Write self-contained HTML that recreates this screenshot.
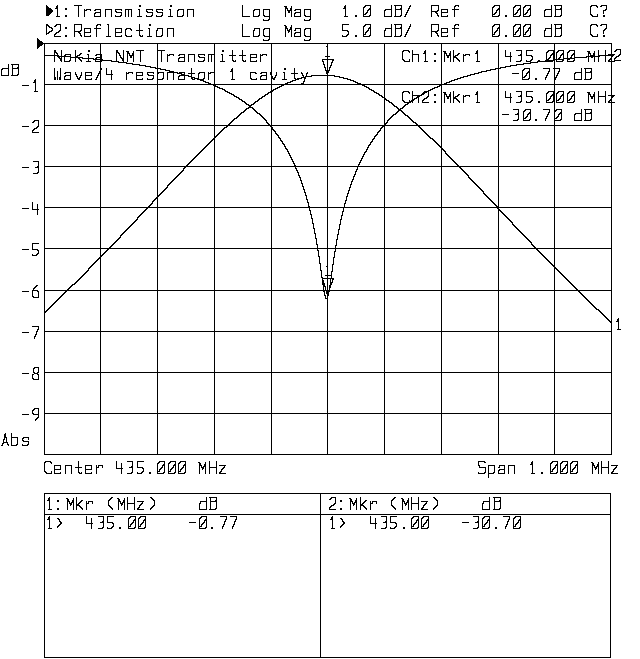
<!DOCTYPE html><html><head><meta charset="utf-8"><style>html,body{margin:0;padding:0;background:#fff;width:640px;height:659px;overflow:hidden;font-family:"Liberation Mono",monospace}svg{display:block}</style></head><body>
<svg width="640" height="659" viewBox="0 0 640 659" shape-rendering="crispEdges">
<rect width="640" height="659" fill="#fff"/>
<g fill="none" stroke="#000" stroke-width="1">
<path d="M44.5 43 V455 M100.5 43 V455 M157.5 43 V455 M214.5 43 V455 M271.5 43 V455 M327.5 43 V455 M384.5 43 V455 M441.5 43 V455 M498.5 43 V455 M554.5 43 V455 M611.5 43 V455 M44 43.5 H612 M44 84.5 H612 M44 125.5 H612 M44 166.5 H612 M44 207.5 H612 M44 248.5 H612 M44 290.5 H612 M44 331.5 H612 M44 372.5 H612 M44 413.5 H612 M44 454.5 H612 M44.5 493.5 H610.5 V657.5 H44.5 Z M44 514.5 H611 M320.5 493 V658"/>
<path d="M44.5 312.5H45.5V311.5H46.5V310.5H47.5V309.5H48.5V308.5H49.5V307.5H50.5V306.5H51.5V305.5H52.5V304.5H53.5V303.5H54.5V302.5H55.5V301.5H56.5V300.5H57.5V299.5H58.5V298.5H59.5V297.5H60.5V296.5H61.5V295.5H62.5V294.5H63.5V293.5H64.5V292.5H65.5V291.5H66.5V290.5H67.5V289.5H68.5V288.5H69.5V287.5H70.5V286.5H71.5V285.5H72.5V284.5H73.5H74.5V283.5H75.5V282.5H76.5V281.5H77.5V280.5H78.5V279.5H79.5V278.5H80.5V277.5H81.5V276.5H82.5V275.5H83.5V274.5H84.5V273.5H85.5V272.5H86.5V271.5H87.5V270.5H88.5V268.5H89.5V267.5H90.5V266.5H91.5V265.5H92.5V264.5H93.5V263.5H94.5V262.5H95.5V261.5H96.5V260.5H97.5V259.5H98.5V258.5H99.5V257.5H100.5V256.5H101.5V255.5H102.5V254.5H103.5V253.5H104.5V252.5H105.5V251.5H106.5V250.5H107.5V249.5H108.5V248.5H109.5V247.5H110.5V246.5H111.5V245.5H112.5V244.5H113.5V243.5H114.5V242.5H115.5V241.5H116.5V240.5H117.5V239.5H118.5V238.5H119.5V237.5H120.5V235.5H121.5V234.5H122.5V233.5H123.5V232.5H124.5V231.5H125.5V230.5H126.5V229.5H127.5V228.5H128.5V227.5H129.5V226.5H130.5V225.5H131.5V224.5H132.5V223.5H133.5V222.5H134.5V221.5H135.5V220.5H136.5V219.5H137.5V217.5H138.5V216.5H139.5V215.5H140.5V214.5H141.5V213.5H142.5V212.5H143.5V211.5H144.5V210.5H145.5V209.5H146.5V208.5H147.5V207.5H148.5V206.5H149.5V205.5H150.5V204.5H151.5V203.5H152.5V201.5H153.5V200.5H154.5V199.5H155.5V198.5H156.5V197.5H157.5V196.5H158.5V195.5H159.5V194.5H160.5V193.5H161.5V192.5H162.5V191.5H163.5V190.5H164.5V189.5H165.5V188.5H166.5V187.5H167.5V185.5H168.5V184.5H169.5V183.5H170.5V182.5H171.5V181.5H172.5V180.5H173.5V179.5H174.5V178.5H175.5V177.5H176.5V176.5H177.5V175.5H178.5V174.5H179.5V173.5H180.5V172.5H181.5V171.5H182.5V170.5H183.5V168.5H184.5V167.5H185.5V166.5H186.5V165.5H187.5V164.5H188.5V163.5H189.5V162.5H190.5V161.5H191.5V160.5H192.5V159.5H193.5V158.5H194.5V157.5H195.5V156.5H196.5V155.5H197.5V154.5H198.5V153.5H199.5V152.5H200.5V151.5H201.5V150.5H202.5V149.5H203.5V148.5H204.5V147.5H205.5V146.5H206.5V145.5H207.5V144.5H208.5V143.5H209.5V142.5H210.5V141.5H211.5V140.5H212.5V139.5H213.5V138.5H214.5V137.5H215.5V136.5H216.5V135.5H217.5V134.5H218.5V133.5H219.5V132.5H220.5V131.5H221.5V130.5H222.5V129.5H223.5V128.5H224.5V127.5H225.5H226.5V126.5H227.5V125.5H228.5V124.5H229.5V123.5H230.5V122.5H231.5V121.5H232.5V120.5H233.5V119.5H234.5V118.5H235.5H236.5V117.5H237.5V116.5H238.5V115.5H239.5V114.5H240.5V113.5H241.5V112.5H242.5H243.5V111.5H244.5V110.5H245.5V109.5H246.5V108.5H247.5H248.5V107.5H249.5V106.5H250.5V105.5H251.5V104.5H252.5H253.5V103.5H254.5V102.5H255.5V101.5H256.5H257.5V100.5H258.5V99.5H259.5V98.5H260.5H261.5V97.5H262.5V96.5H263.5H264.5V95.5H265.5V94.5H266.5H267.5V93.5H268.5V92.5H269.5H270.5V91.5H271.5H272.5V90.5H273.5V89.5H274.5H275.5V88.5H276.5H277.5V87.5H278.5H279.5V86.5H280.5H281.5V85.5H282.5H283.5V84.5H284.5H285.5V83.5H286.5H287.5V82.5H288.5H289.5H290.5V81.5H291.5H292.5V80.5H293.5H294.5H295.5V79.5H296.5H297.5H298.5V78.5H299.5H300.5H301.5V77.5H302.5H303.5H304.5H305.5V76.5H306.5H307.5H308.5H309.5H310.5H311.5V75.5H312.5H313.5H314.5H315.5H316.5H317.5H318.5H319.5H320.5H321.5H322.5H323.5H324.5H325.5H326.5H327.5H328.5H329.5H330.5H331.5H332.5H333.5H334.5V76.5H335.5H336.5H337.5H338.5H339.5V77.5H340.5H341.5H342.5H343.5V78.5H344.5H345.5H346.5H347.5V79.5H348.5H349.5H350.5V80.5H351.5H352.5H353.5V81.5H354.5H355.5V82.5H356.5H357.5V83.5H358.5H359.5H360.5V84.5H361.5H362.5V85.5H363.5H364.5V86.5H365.5H366.5V87.5H367.5H368.5V88.5H369.5V89.5H370.5H371.5V90.5H372.5H373.5V91.5H374.5V92.5H375.5H376.5V93.5H377.5H378.5V94.5H379.5V95.5H380.5H381.5V96.5H382.5V97.5H383.5H384.5V98.5H385.5V99.5H386.5V100.5H387.5H388.5V101.5H389.5V102.5H390.5H391.5V103.5H392.5V104.5H393.5V105.5H394.5V106.5H395.5H396.5V107.5H397.5V108.5H398.5V109.5H399.5V110.5H400.5H401.5V111.5H402.5V112.5H403.5V113.5H404.5V114.5H405.5V115.5H406.5H407.5V116.5H408.5V117.5H409.5V118.5H410.5V119.5H411.5V120.5H412.5V121.5H413.5V122.5H414.5H415.5V123.5H416.5V124.5H417.5V125.5H418.5V126.5H419.5V127.5H420.5V128.5H421.5V129.5H422.5V130.5H423.5V131.5H424.5V132.5H425.5V133.5H426.5V134.5H427.5V135.5H428.5V136.5H429.5V137.5H430.5V138.5H431.5H432.5V139.5H433.5V140.5H434.5V141.5H435.5V142.5H436.5V143.5H437.5V144.5H438.5V145.5H439.5V146.5H440.5V147.5H441.5V148.5H442.5V149.5H443.5V150.5H444.5V151.5H445.5V153.5H446.5V154.5H447.5V155.5H448.5V156.5H449.5V157.5H450.5V158.5H451.5V159.5H452.5V160.5H453.5V161.5H454.5V162.5H455.5V163.5H456.5V164.5H457.5V165.5H458.5V166.5H459.5V167.5H460.5V168.5H461.5V169.5H462.5V170.5H463.5V171.5H464.5V172.5H465.5V173.5H466.5V174.5H467.5V175.5H468.5V177.5H469.5V178.5H470.5V179.5H471.5V180.5H472.5V181.5H473.5V182.5H474.5V183.5H475.5V184.5H476.5V185.5H477.5V186.5H478.5V187.5H479.5V188.5H480.5V189.5H481.5V190.5H482.5V191.5H483.5V193.5H484.5V194.5H485.5V195.5H486.5V196.5H487.5V197.5H488.5V198.5H489.5V199.5H490.5V200.5H491.5V201.5H492.5V202.5H493.5V203.5H494.5V204.5H495.5V205.5H496.5V206.5H497.5V208.5H498.5V209.5H499.5V210.5H500.5V211.5H501.5V212.5H502.5V213.5H503.5V214.5H504.5V215.5H505.5V216.5H506.5V217.5H507.5V218.5H508.5V219.5H509.5V220.5H510.5V221.5H511.5V222.5H512.5V224.5H513.5V225.5H514.5V226.5H515.5V227.5H516.5V228.5H517.5V229.5H518.5V230.5H519.5V231.5H520.5V232.5H521.5V233.5H522.5V234.5H523.5V235.5H524.5V236.5H525.5V237.5H526.5V238.5H527.5V239.5H528.5V240.5H529.5V241.5H530.5V242.5H531.5V244.5H532.5V245.5H533.5V246.5H534.5V247.5H535.5V248.5H536.5V249.5H537.5V250.5H538.5V251.5H539.5V252.5H540.5V253.5H541.5V254.5H542.5V255.5H543.5V256.5H544.5V257.5H545.5V258.5H546.5V259.5H547.5V260.5H548.5V261.5H549.5V262.5H550.5V263.5H551.5V264.5H552.5V265.5H553.5V266.5H554.5V267.5H555.5V268.5H556.5V269.5H557.5V270.5H558.5V271.5H559.5V272.5H560.5V273.5H561.5V274.5H562.5V275.5H563.5V276.5H564.5V277.5H565.5V278.5H566.5V279.5H567.5V280.5H568.5V281.5H569.5V282.5H570.5V283.5H571.5V284.5H572.5V285.5H573.5V286.5H574.5V287.5H575.5V288.5H576.5V289.5H577.5V290.5H578.5V291.5H579.5V292.5H580.5V293.5H581.5V294.5H582.5V295.5H583.5V296.5H584.5V297.5H585.5V298.5H586.5V299.5H587.5V300.5H588.5V301.5H589.5V302.5H590.5V303.5H591.5V304.5H592.5V305.5H593.5V306.5H594.5V307.5H595.5V308.5H596.5V309.5H597.5H598.5V310.5H599.5V311.5H600.5V312.5H601.5V313.5H602.5V314.5H603.5V315.5H604.5V316.5H605.5V317.5H606.5V318.5H607.5V319.5H608.5V320.5H609.5V321.5H610.5V322.5H611.5V323.5" stroke-linecap="square" stroke-linejoin="round"/>
<path d="M44.5 55.5H45.5H46.5H47.5H48.5H49.5H50.5H51.5H52.5H53.5H54.5H55.5H56.5H57.5V56.5H58.5H59.5H60.5H61.5H62.5H63.5H64.5H65.5H66.5H67.5H68.5H69.5H70.5V57.5H71.5H72.5H73.5H74.5H75.5H76.5H77.5H78.5H79.5H80.5H81.5H82.5V58.5H83.5H84.5H85.5H86.5H87.5H88.5H89.5H90.5H91.5H92.5H93.5V59.5H94.5H95.5H96.5H97.5H98.5H99.5H100.5H101.5H102.5V60.5H103.5H104.5H105.5H106.5H107.5H108.5H109.5H110.5H111.5V61.5H112.5H113.5H114.5H115.5H116.5H117.5H118.5V62.5H119.5H120.5H121.5H122.5H123.5H124.5H125.5H126.5V63.5H127.5H128.5H129.5H130.5H131.5H132.5V64.5H133.5H134.5H135.5H136.5H137.5H138.5H139.5V65.5H140.5H141.5H142.5H143.5H144.5H145.5V66.5H146.5H147.5H148.5H149.5H150.5V67.5H151.5H152.5H153.5H154.5H155.5V68.5H156.5H157.5H158.5H159.5H160.5V69.5H161.5H162.5H163.5H164.5H165.5V70.5H166.5H167.5H168.5H169.5V71.5H170.5H171.5H172.5H173.5V72.5H174.5H175.5H176.5H177.5V73.5H178.5H179.5H180.5H181.5V74.5H182.5H183.5H184.5V75.5H185.5H186.5H187.5H188.5V76.5H189.5H190.5H191.5V77.5H192.5H193.5H194.5V78.5H195.5H196.5H197.5V79.5H198.5H199.5H200.5V80.5H201.5H202.5H203.5V81.5H204.5H205.5V82.5H206.5H207.5H208.5V83.5H209.5H210.5V84.5H211.5H212.5H213.5V85.5H214.5H215.5V86.5H216.5H217.5V87.5H218.5H219.5V88.5H220.5H221.5H222.5V89.5H223.5H224.5V90.5H225.5V91.5H226.5H227.5V92.5H228.5H229.5V93.5H230.5H231.5V94.5H232.5H233.5V95.5H234.5V96.5H235.5H236.5V97.5H237.5H238.5V98.5H239.5V99.5H240.5H241.5V100.5H242.5V101.5H243.5H244.5V102.5H245.5V103.5H246.5V104.5H247.5H248.5V105.5H249.5V106.5H250.5V107.5H251.5H252.5V108.5H253.5V109.5H254.5V110.5H255.5V111.5H256.5V112.5H257.5V113.5H258.5H259.5V114.5H260.5V115.5H261.5V116.5H262.5V117.5H263.5V118.5H264.5V119.5H265.5V120.5H266.5V122.5H267.5V123.5H268.5V124.5H269.5V125.5H270.5V126.5H271.5V127.5H272.5V129.5H273.5V130.5H274.5V131.5H275.5V133.5H276.5V134.5H277.5V135.5H278.5V137.5H279.5V138.5H280.5V140.5H281.5V141.5H282.5V143.5H283.5V144.5H284.5V146.5H285.5V148.5H286.5V149.5H287.5V151.5H288.5V153.5H289.5V155.5H290.5V157.5H291.5V159.5H292.5V161.5H293.5V163.5H294.5V165.5H295.5V168.5H296.5V170.5H297.5V172.5H298.5V175.5H299.5V177.5H300.5V180.5H301.5V183.5H302.5V186.5H303.5V189.5H304.5V192.5H305.5V195.5H306.5V199.5H307.5V202.5H308.5V206.5H309.5V210.5H310.5V214.5H311.5V218.5H312.5V223.5H313.5V228.5H314.5V233.5H315.5V238.5H316.5V244.5H317.5V250.5H318.5V256.5H319.5V263.5H320.5V270.5H321.5V277.5H322.5V284.5H323.5V291.5H324.5V295.5H325.5V298.5H326.5H327.5V295.5H328.5V291.5H329.5V285.5H330.5V278.5H331.5V271.5H332.5V264.5H333.5V257.5H334.5V251.5H335.5V245.5H336.5V239.5H337.5V234.5H338.5V229.5H339.5V224.5H340.5V219.5H341.5V215.5H342.5V211.5H343.5V207.5H344.5V203.5H345.5V200.5H346.5V196.5H347.5V193.5H348.5V190.5H349.5V187.5H350.5V184.5H351.5V181.5H352.5V179.5H353.5V176.5H354.5V174.5H355.5V171.5H356.5V169.5H357.5V166.5H358.5V164.5H359.5V162.5H360.5V160.5H361.5V158.5H362.5V156.5H363.5V154.5H364.5V152.5H365.5V151.5H366.5V149.5H367.5V147.5H368.5V145.5H369.5V144.5H370.5V142.5H371.5V141.5H372.5V139.5H373.5V138.5H374.5V136.5H375.5V135.5H376.5V134.5H377.5V132.5H378.5V131.5H379.5V130.5H380.5V128.5H381.5V127.5H382.5V126.5H383.5V125.5H384.5V124.5H385.5V123.5H386.5V122.5H387.5V120.5H388.5V119.5H389.5V118.5H390.5V117.5H391.5V116.5H392.5V115.5H393.5V114.5H394.5H395.5V113.5H396.5V112.5H397.5V111.5H398.5V110.5H399.5V109.5H400.5V108.5H401.5H402.5V107.5H403.5V106.5H404.5V105.5H405.5V104.5H406.5H407.5V103.5H408.5V102.5H409.5H410.5V101.5H411.5V100.5H412.5H413.5V99.5H414.5V98.5H415.5H416.5V97.5H417.5V96.5H418.5H419.5V95.5H420.5H421.5V94.5H422.5H423.5V93.5H424.5V92.5H425.5H426.5V91.5H427.5H428.5V90.5H429.5H430.5V89.5H431.5H432.5V88.5H433.5H434.5V87.5H435.5H436.5H437.5V86.5H438.5H439.5V85.5H440.5H441.5V84.5H442.5H443.5H444.5V83.5H445.5H446.5V82.5H447.5H448.5H449.5V81.5H450.5H451.5V80.5H452.5H453.5H454.5V79.5H455.5H456.5H457.5V78.5H458.5H459.5H460.5V77.5H461.5H462.5H463.5V76.5H464.5H465.5H466.5H467.5V75.5H468.5H469.5H470.5V74.5H471.5H472.5H473.5H474.5V73.5H475.5H476.5H477.5H478.5V72.5H479.5H480.5H481.5V71.5H482.5H483.5H484.5H485.5H486.5V70.5H487.5H488.5H489.5H490.5V69.5H491.5H492.5H493.5H494.5H495.5V68.5H496.5H497.5H498.5H499.5H500.5V67.5H501.5H502.5H503.5H504.5H505.5V66.5H506.5H507.5H508.5H509.5H510.5V65.5H511.5H512.5H513.5H514.5H515.5H516.5V64.5H517.5H518.5H519.5H520.5H521.5H522.5H523.5V63.5H524.5H525.5H526.5H527.5H528.5H529.5H530.5V62.5H531.5H532.5H533.5H534.5H535.5H536.5H537.5V61.5H538.5H539.5H540.5H541.5H542.5H543.5H544.5H545.5V60.5H546.5H547.5H548.5H549.5H550.5H551.5H552.5H553.5H554.5V59.5H555.5H556.5H557.5H558.5H559.5H560.5H561.5H562.5H563.5V58.5H564.5H565.5H566.5H567.5H568.5H569.5H570.5H571.5H572.5H573.5H574.5V57.5H575.5H576.5H577.5H578.5H579.5H580.5H581.5H582.5H583.5H584.5H585.5H586.5V56.5H587.5H588.5H589.5H590.5H591.5H592.5H593.5H594.5H595.5H596.5H597.5H598.5H599.5V55.5H600.5H601.5H602.5H603.5H604.5H605.5H606.5H607.5H608.5H609.5H610.5H611.5" stroke-linecap="square" stroke-linejoin="round"/>
<path d="M327.5 74.5V73.5H326.5V72.5V71.5V70.5H325.5V69.5V68.5V67.5H324.5V66.5V65.5V64.5H323.5V63.5V62.5V61.5H322.5V60.5V59.5L333.5 59.5V60.5H332.5V61.5V62.5H331.5V63.5V64.5V65.5H330.5V66.5V67.5H329.5V68.5V69.5V70.5H328.5V71.5V72.5H327.5V73.5V74.5 M326.5 46.5 L327.5 46.5 M327.5 46.5 V56.5 M325.5 56.5 H329.5 M327.5 294.5V293.5H326.5V292.5V291.5V290.5H325.5V289.5V288.5V287.5V286.5H324.5V285.5V284.5V283.5H323.5V282.5V281.5V280.5H322.5V279.5V278.5L333.5 278.5V279.5H332.5V280.5V281.5V282.5H331.5V283.5V284.5H330.5V285.5V286.5V287.5H329.5V288.5V289.5V290.5H328.5V291.5V292.5H327.5V293.5V294.5 M326.5 266.5 L327.5 266.5 M327.5 266.5 V275.5 M325.5 275.5 H330.5" stroke-linecap="square" stroke-linejoin="round"/>
<path d="M55.5 8.5H56.5V7.5V6.5H57.5V5.5L57.5 16.5 M56.5 16.5L59.5 16.5 M74.5 5.5L81.5 5.5 M78.5 5.5L78.5 16.5 M84.5 9.5L84.5 16.5 M85.5 10.5H86.5V9.5L89.5 9.5H90.5V10.5 M94.5 10.5H95.5V9.5L99.5 9.5H100.5V10.5L100.5 16.5L94.5 16.5L94.5 13.5H95.5V12.5L100.5 12.5 M105.5 9.5L105.5 16.5 M105.5 9.5L110.5 9.5H111.5V10.5L111.5 16.5 M121.5 10.5L121.5 9.5L116.5 9.5H115.5V10.5L115.5 11.5H116.5V12.5L120.5 12.5H121.5V13.5L121.5 15.5H120.5V16.5L115.5 16.5L115.5 15.5 M125.5 9.5L125.5 16.5 M125.5 9.5L130.5 9.5H131.5V10.5L131.5 16.5 M128.5 9.5L128.5 16.5 M138.5 9.5L139.5 9.5L139.5 16.5 M137.5 16.5L141.5 16.5 M152.5 10.5L152.5 9.5L147.5 9.5H146.5V10.5L146.5 11.5H147.5V12.5L151.5 12.5H152.5V13.5L152.5 15.5H151.5V16.5L146.5 16.5L146.5 15.5 M162.5 10.5L162.5 9.5L157.5 9.5H156.5V10.5L156.5 11.5H157.5V12.5L161.5 12.5H162.5V13.5L162.5 15.5H161.5V16.5L156.5 16.5L156.5 15.5 M169.5 9.5L170.5 9.5L170.5 16.5 M168.5 16.5L172.5 16.5 M178.5 9.5L182.5 9.5H183.5V10.5L183.5 15.5H182.5V16.5L178.5 16.5H177.5V15.5L177.5 10.5H178.5V9.5 M187.5 9.5L187.5 16.5 M187.5 9.5L192.5 9.5H193.5V10.5L193.5 16.5 M54.5 26.5H55.5V25.5H56.5V24.5L59.5 24.5H60.5V25.5L60.5 30.5H59.5V31.5H58.5V32.5H57.5H56.5V33.5H55.5V34.5H54.5V35.5L54.5 36.5L60.5 36.5 M74.5 36.5L74.5 24.5L80.5 24.5H81.5V25.5L81.5 30.5H80.5V31.5L74.5 31.5 M78.5 32.5H79.5V33.5H80.5V34.5V35.5H81.5V36.5 M84.5 32.5L90.5 32.5L90.5 28.5L84.5 28.5L84.5 36.5L90.5 36.5L90.5 35.5 M96.5 36.5L96.5 25.5H97.5V24.5L99.5 24.5H100.5V25.5 M94.5 28.5L100.5 28.5 M107.5 24.5L108.5 24.5L108.5 36.5 M106.5 36.5L110.5 36.5 M115.5 32.5L121.5 32.5L121.5 28.5L115.5 28.5L115.5 36.5L121.5 36.5L121.5 35.5 M131.5 30.5V29.5H130.5V28.5L126.5 28.5V29.5H125.5V30.5L125.5 35.5H126.5V36.5L130.5 36.5H131.5V35.5 M139.5 24.5L139.5 35.5H140.5V36.5L142.5 36.5L142.5 35.5 M136.5 30.5L142.5 30.5 M148.5 28.5L149.5 28.5L149.5 36.5 M147.5 36.5L151.5 36.5 M157.5 28.5L161.5 28.5H162.5V29.5V30.5L162.5 35.5H161.5V36.5L157.5 36.5H156.5V35.5L156.5 30.5H157.5V29.5V28.5 M167.5 28.5L167.5 36.5 M167.5 28.5L172.5 28.5H173.5V29.5V30.5L173.5 36.5 M242.5 5.5L242.5 16.5L249.5 16.5 M254.5 9.5L258.5 9.5H259.5V10.5L259.5 15.5H258.5V16.5L254.5 16.5H253.5V15.5L253.5 10.5H254.5V9.5 M269.5 9.5L264.5 9.5H263.5V10.5L263.5 15.5H264.5V16.5L269.5 16.5 M269.5 9.5L269.5 19.5H268.5V20.5L264.5 20.5H263.5V19.5 M284.5 6.5L285.5 6.5L285.5 16.5 M285.5 6.5H286.5V7.5V8.5H287.5V9.5V10.5H288.5V11.5V12.5H289.5V11.5V10.5H290.5V9.5V8.5H291.5V7.5V6.5L291.5 16.5 M294.5 10.5H295.5V9.5L299.5 9.5H300.5V10.5L300.5 16.5L294.5 16.5L294.5 13.5H295.5V12.5L300.5 12.5 M310.5 9.5L305.5 9.5H304.5V10.5L304.5 15.5H305.5V16.5L310.5 16.5 M310.5 9.5L310.5 19.5H309.5V20.5L305.5 20.5H304.5V19.5 M242.5 24.5L242.5 36.5L249.5 36.5 M254.5 28.5L258.5 28.5H259.5V29.5V30.5L259.5 35.5H258.5V36.5L254.5 36.5H253.5V35.5L253.5 30.5H254.5V29.5V28.5 M269.5 28.5L264.5 28.5V29.5H263.5V30.5L263.5 35.5H264.5V36.5L269.5 36.5 M269.5 28.5L269.5 39.5H268.5V40.5L264.5 40.5H263.5V39.5 M284.5 25.5L285.5 25.5L285.5 36.5 M285.5 25.5V26.5H286.5V27.5V28.5H287.5V29.5V30.5H288.5V31.5V32.5V31.5H289.5V30.5V29.5H290.5V28.5V27.5H291.5V26.5V25.5L291.5 36.5 M294.5 30.5H295.5V29.5V28.5L299.5 28.5H300.5V29.5V30.5L300.5 36.5L294.5 36.5L294.5 33.5H295.5V32.5L300.5 32.5 M310.5 28.5L305.5 28.5V29.5H304.5V30.5L304.5 35.5H305.5V36.5L310.5 36.5 M310.5 28.5L310.5 39.5H309.5V40.5L305.5 40.5H304.5V39.5 M343.5 8.5H344.5V7.5V6.5H345.5V5.5L345.5 16.5 M344.5 16.5L347.5 16.5 M363.5 7.5H364.5V6.5H365.5V5.5L370.5 5.5L370.5 15.5H369.5V16.5L363.5 16.5L363.5 7.5 M364.5 14.5H365.5V13.5H366.5V12.5H367.5V11.5V10.5H368.5V9.5H369.5V8.5 M391.5 5.5L391.5 16.5 M391.5 9.5L386.5 9.5H385.5V10.5H384.5V11.5L384.5 16.5L391.5 16.5 M394.5 5.5L400.5 5.5H401.5V6.5L401.5 8.5H400.5V9.5L395.5 9.5 M400.5 9.5H401.5V10.5L401.5 15.5H400.5V16.5L394.5 16.5 M395.5 5.5L395.5 16.5 M404.5 16.5H405.5V15.5V14.5H406.5V13.5V12.5H407.5V11.5V10.5H408.5V9.5V8.5H409.5V7.5V6.5H410.5V5.5 M348.5 24.5L342.5 24.5L342.5 30.5L346.5 30.5H347.5V31.5H348.5V32.5L348.5 34.5H347.5V35.5H346.5V36.5L343.5 36.5H342.5V35.5 M363.5 26.5H364.5V25.5H365.5V24.5L370.5 24.5L370.5 35.5H369.5V36.5L363.5 36.5L363.5 26.5 M364.5 34.5H365.5V33.5V32.5H366.5V31.5H367.5V30.5H368.5V29.5V28.5H369.5V27.5 M391.5 24.5L391.5 36.5 M391.5 28.5L386.5 28.5H385.5V29.5V30.5H384.5V31.5L384.5 36.5L391.5 36.5 M394.5 24.5L400.5 24.5H401.5V25.5L401.5 27.5H400.5V28.5L395.5 28.5 M400.5 28.5H401.5V29.5V30.5L401.5 35.5H400.5V36.5L394.5 36.5 M395.5 24.5L395.5 36.5 M404.5 36.5H405.5V35.5V34.5H406.5V33.5V32.5H407.5V31.5V30.5H408.5V29.5V28.5H409.5V27.5V26.5H410.5V25.5V24.5 M431.5 16.5L431.5 5.5L437.5 5.5H438.5V6.5L438.5 10.5H437.5V11.5L431.5 11.5 M435.5 12.5H436.5V13.5H437.5V14.5V15.5H438.5V16.5 M441.5 12.5L447.5 12.5L447.5 9.5L441.5 9.5L441.5 16.5L447.5 16.5L447.5 15.5 M454.5 16.5L454.5 6.5H455.5V5.5L457.5 5.5H458.5V6.5 M452.5 9.5L458.5 9.5 M431.5 36.5L431.5 24.5L437.5 24.5H438.5V25.5L438.5 30.5H437.5V31.5L431.5 31.5 M435.5 32.5H436.5V33.5H437.5V34.5V35.5H438.5V36.5 M441.5 32.5L447.5 32.5L447.5 28.5L441.5 28.5L441.5 36.5L447.5 36.5L447.5 35.5 M454.5 36.5L454.5 25.5H455.5V24.5L457.5 24.5H458.5V25.5 M452.5 28.5L458.5 28.5 M492.5 7.5H493.5V6.5H494.5V5.5L499.5 5.5L499.5 15.5H498.5V16.5L492.5 16.5L492.5 7.5 M493.5 14.5H494.5V13.5H495.5V12.5H496.5V11.5V10.5H497.5V9.5H498.5V8.5 M513.5 7.5H514.5V6.5H515.5V5.5L520.5 5.5L520.5 15.5H519.5V16.5L513.5 16.5L513.5 7.5 M514.5 14.5H515.5V13.5H516.5V12.5H517.5V11.5V10.5H518.5V9.5H519.5V8.5 M523.5 7.5H524.5V6.5H525.5V5.5L530.5 5.5L530.5 15.5H529.5V16.5L523.5 16.5L523.5 7.5 M524.5 14.5H525.5V13.5H526.5V12.5H527.5V11.5V10.5H528.5V9.5H529.5V8.5 M551.5 5.5L551.5 16.5 M551.5 9.5L546.5 9.5H545.5V10.5H544.5V11.5L544.5 16.5L551.5 16.5 M554.5 5.5L560.5 5.5H561.5V6.5L561.5 8.5H560.5V9.5L555.5 9.5 M560.5 9.5H561.5V10.5L561.5 15.5H560.5V16.5L554.5 16.5 M555.5 5.5L555.5 16.5 M492.5 26.5H493.5V25.5H494.5V24.5L499.5 24.5L499.5 35.5H498.5V36.5L492.5 36.5L492.5 26.5 M493.5 34.5H494.5V33.5V32.5H495.5V31.5H496.5V30.5H497.5V29.5V28.5H498.5V27.5 M513.5 26.5H514.5V25.5H515.5V24.5L520.5 24.5L520.5 35.5H519.5V36.5L513.5 36.5L513.5 26.5 M514.5 34.5H515.5V33.5V32.5H516.5V31.5H517.5V30.5H518.5V29.5V28.5H519.5V27.5 M523.5 26.5H524.5V25.5H525.5V24.5L530.5 24.5L530.5 35.5H529.5V36.5L523.5 36.5L523.5 26.5 M524.5 34.5H525.5V33.5V32.5H526.5V31.5H527.5V30.5H528.5V29.5V28.5H529.5V27.5 M551.5 24.5L551.5 36.5 M551.5 28.5L546.5 28.5H545.5V29.5V30.5H544.5V31.5L544.5 36.5L551.5 36.5 M554.5 24.5L560.5 24.5H561.5V25.5L561.5 27.5H560.5V28.5L555.5 28.5 M560.5 28.5H561.5V29.5V30.5L561.5 35.5H560.5V36.5L554.5 36.5 M555.5 24.5L555.5 36.5 M597.5 7.5L597.5 6.5H596.5V5.5L592.5 5.5H591.5V6.5H590.5V7.5L590.5 14.5H591.5V15.5H592.5V16.5L596.5 16.5H597.5V15.5L597.5 14.5 M600.5 6.5H601.5V5.5L605.5 5.5H606.5V6.5L606.5 9.5H605.5V10.5H604.5H603.5V11.5L603.5 13.5 M597.5 26.5L597.5 25.5H596.5V24.5L592.5 24.5H591.5V25.5H590.5V26.5L590.5 34.5H591.5V35.5H592.5V36.5L596.5 36.5H597.5V35.5L597.5 34.5 M600.5 25.5H601.5V24.5L605.5 24.5H606.5V25.5L606.5 28.5H605.5V29.5H604.5V30.5H603.5V31.5L603.5 33.5 M54.5 61.5L54.5 50.5H55.5V51.5V52.5H56.5V53.5H57.5V54.5V55.5H58.5V56.5V57.5H59.5V58.5H60.5V59.5V60.5H61.5V61.5L61.5 50.5 M65.5 54.5L69.5 54.5H70.5V55.5L70.5 60.5H69.5V61.5L65.5 61.5H64.5V60.5L64.5 55.5H65.5V54.5 M75.5 50.5L75.5 61.5 M81.5 53.5H80.5V54.5H79.5V55.5H78.5H77.5V56.5H76.5V57.5 M77.5 57.5H78.5V58.5H79.5V59.5H80.5V60.5H81.5V61.5 M87.5 54.5L88.5 54.5L88.5 61.5 M86.5 61.5L90.5 61.5 M95.5 55.5H96.5V54.5L100.5 54.5H101.5V55.5L101.5 61.5L95.5 61.5L95.5 58.5H96.5V57.5L101.5 57.5 M116.5 61.5L116.5 50.5H117.5V51.5V52.5H118.5V53.5H119.5V54.5V55.5H120.5V56.5V57.5H121.5V58.5H122.5V59.5V60.5H123.5V61.5L123.5 50.5 M126.5 51.5L127.5 51.5L127.5 61.5 M127.5 51.5H128.5V52.5V53.5H129.5V54.5V55.5H130.5V56.5V57.5H131.5V56.5V55.5H132.5V54.5V53.5H133.5V52.5V51.5L133.5 61.5 M136.5 50.5L143.5 50.5 M140.5 50.5L140.5 61.5 M157.5 50.5L164.5 50.5 M161.5 50.5L161.5 61.5 M167.5 54.5L167.5 61.5 M168.5 55.5H169.5V54.5L172.5 54.5H173.5V55.5 M178.5 55.5H179.5V54.5L183.5 54.5H184.5V55.5L184.5 61.5L178.5 61.5L178.5 58.5H179.5V57.5L184.5 57.5 M188.5 54.5L188.5 61.5 M188.5 54.5L193.5 54.5H194.5V55.5L194.5 61.5 M204.5 55.5L204.5 54.5L199.5 54.5H198.5V55.5L198.5 56.5H199.5V57.5L203.5 57.5H204.5V58.5L204.5 60.5H203.5V61.5L198.5 61.5L198.5 60.5 M208.5 54.5L208.5 61.5 M208.5 54.5L213.5 54.5H214.5V55.5L214.5 61.5 M211.5 54.5L211.5 61.5 M221.5 54.5L222.5 54.5L222.5 61.5 M220.5 61.5L224.5 61.5 M232.5 50.5L232.5 60.5H233.5V61.5L235.5 61.5L235.5 60.5 M229.5 55.5L235.5 55.5 M242.5 50.5L242.5 60.5H243.5V61.5L245.5 61.5L245.5 60.5 M239.5 55.5L245.5 55.5 M250.5 57.5L256.5 57.5L256.5 54.5L250.5 54.5L250.5 61.5L256.5 61.5L256.5 60.5 M260.5 54.5L260.5 61.5 M261.5 55.5H262.5V54.5L265.5 54.5H266.5V55.5 M54.5 68.5L54.5 79.5 M55.5 77.5L55.5 79.5 M57.5 71.5L57.5 79.5 M59.5 77.5L59.5 79.5 M60.5 68.5L60.5 79.5 M64.5 73.5H65.5V72.5L69.5 72.5H70.5V73.5L70.5 79.5L64.5 79.5L64.5 76.5H65.5V75.5L70.5 75.5 M75.5 72.5L75.5 74.5H76.5V75.5V76.5H77.5V77.5V78.5H78.5V79.5H79.5V78.5V77.5H80.5V76.5V75.5H81.5V74.5L81.5 72.5 M85.5 75.5L91.5 75.5L91.5 72.5L85.5 72.5L85.5 79.5L91.5 79.5L91.5 78.5 M95.5 79.5H96.5V78.5V77.5H97.5V76.5V75.5H98.5V74.5V73.5H99.5V72.5V71.5H100.5V70.5V69.5H101.5V68.5 M106.5 68.5L106.5 74.5L112.5 74.5 M111.5 70.5L111.5 79.5 M126.5 72.5L126.5 79.5 M127.5 73.5H128.5V72.5L131.5 72.5H132.5V73.5 M136.5 75.5L142.5 75.5L142.5 72.5L136.5 72.5L136.5 79.5L142.5 79.5L142.5 78.5 M153.5 73.5L153.5 72.5L148.5 72.5H147.5V73.5L147.5 74.5H148.5V75.5L152.5 75.5H153.5V76.5L153.5 78.5H152.5V79.5L147.5 79.5L147.5 78.5 M158.5 72.5L162.5 72.5H163.5V73.5L163.5 78.5H162.5V79.5L158.5 79.5H157.5V78.5L157.5 73.5H158.5V72.5 M167.5 72.5L167.5 79.5 M167.5 72.5L172.5 72.5H173.5V73.5L173.5 79.5 M178.5 73.5H179.5V72.5L183.5 72.5H184.5V73.5L184.5 79.5L178.5 79.5L178.5 76.5H179.5V75.5L184.5 75.5 M191.5 68.5L191.5 78.5H192.5V79.5L194.5 79.5L194.5 78.5 M188.5 73.5L194.5 73.5 M199.5 72.5L203.5 72.5H204.5V73.5L204.5 78.5H203.5V79.5L199.5 79.5H198.5V78.5L198.5 73.5H199.5V72.5 M208.5 72.5L208.5 79.5 M209.5 73.5H210.5V72.5L213.5 72.5H214.5V73.5 M230.5 71.5H231.5V70.5V69.5H232.5V68.5L232.5 79.5 M231.5 79.5L234.5 79.5 M256.5 73.5H255.5V72.5L251.5 72.5H250.5V73.5L250.5 78.5H251.5V79.5L255.5 79.5H256.5V78.5 M260.5 73.5H261.5V72.5L265.5 72.5H266.5V73.5L266.5 79.5L260.5 79.5L260.5 76.5H261.5V75.5L266.5 75.5 M270.5 72.5L270.5 74.5H271.5V75.5V76.5H272.5V77.5V78.5H273.5V79.5H274.5V78.5V77.5H275.5V76.5V75.5H276.5V74.5L276.5 72.5 M283.5 72.5L284.5 72.5L284.5 79.5 M282.5 79.5L286.5 79.5 M294.5 68.5L294.5 78.5H295.5V79.5L297.5 79.5L297.5 78.5 M291.5 73.5L297.5 73.5 M301.5 72.5V73.5H302.5V74.5V75.5H303.5V76.5V77.5H304.5V78.5V79.5 M307.5 72.5V73.5H306.5V74.5V75.5V76.5H305.5V77.5V78.5H304.5V79.5V80.5V81.5H303.5V82.5V83.5L301.5 83.5 M409.5 52.5L409.5 51.5H408.5V50.5L404.5 50.5H403.5V51.5H402.5V52.5L402.5 59.5H403.5V60.5H404.5V61.5L408.5 61.5H409.5V60.5L409.5 59.5 M412.5 50.5L412.5 61.5 M412.5 54.5L417.5 54.5H418.5V55.5L418.5 61.5 M423.5 53.5H424.5V52.5V51.5H425.5V50.5L425.5 61.5 M424.5 61.5L427.5 61.5 M443.5 51.5L444.5 51.5L444.5 61.5 M444.5 51.5H445.5V52.5V53.5H446.5V54.5V55.5H447.5V56.5V57.5H448.5V56.5V55.5H449.5V54.5V53.5H450.5V52.5V51.5L450.5 61.5 M453.5 50.5L453.5 61.5 M459.5 53.5H458.5V54.5H457.5V55.5H456.5H455.5V56.5H454.5V57.5 M455.5 57.5H456.5V58.5H457.5V59.5H458.5V60.5H459.5V61.5 M463.5 54.5L463.5 61.5 M464.5 55.5H465.5V54.5L468.5 54.5H469.5V55.5 M475.5 53.5H476.5V52.5V51.5H477.5V50.5L477.5 61.5 M476.5 61.5L479.5 61.5 M505.5 50.5L505.5 56.5L511.5 56.5 M510.5 52.5L510.5 61.5 M516.5 50.5L520.5 50.5H521.5V51.5L521.5 54.5H520.5V55.5L518.5 55.5 M520.5 55.5H521.5V56.5L521.5 60.5H520.5V61.5L516.5 61.5 M532.5 50.5L526.5 50.5L526.5 55.5L530.5 55.5H531.5V56.5H532.5V57.5L532.5 59.5H531.5V60.5H530.5V61.5L527.5 61.5H526.5V60.5 M546.5 52.5H547.5V51.5H548.5V50.5L553.5 50.5L553.5 60.5H552.5V61.5L546.5 61.5L546.5 52.5 M547.5 59.5H548.5V58.5H549.5V57.5H550.5V56.5V55.5H551.5V54.5H552.5V53.5 M556.5 52.5H557.5V51.5H558.5V50.5L563.5 50.5L563.5 60.5H562.5V61.5L556.5 61.5L556.5 52.5 M557.5 59.5H558.5V58.5H559.5V57.5H560.5V56.5V55.5H561.5V54.5H562.5V53.5 M567.5 52.5H568.5V51.5H569.5V50.5L574.5 50.5L574.5 60.5H573.5V61.5L567.5 61.5L567.5 52.5 M568.5 59.5H569.5V58.5H570.5V57.5H571.5V56.5V55.5H572.5V54.5H573.5V53.5 M587.5 51.5L588.5 51.5L588.5 61.5 M588.5 51.5H589.5V52.5V53.5H590.5V54.5V55.5H591.5V56.5V57.5H592.5V56.5V55.5H593.5V54.5V53.5H594.5V52.5V51.5L594.5 61.5 M598.5 50.5L598.5 61.5 M605.5 50.5L605.5 61.5 M598.5 55.5L605.5 55.5 M608.5 54.5L614.5 54.5H613.5V55.5H612.5V56.5H611.5V57.5V58.5H610.5V59.5H609.5V60.5H608.5V61.5L614.5 61.5 M512.5 73.5L518.5 73.5 M522.5 70.5H523.5V69.5H524.5V68.5L529.5 68.5L529.5 78.5H528.5V79.5L522.5 79.5L522.5 70.5 M523.5 77.5H524.5V76.5H525.5V75.5H526.5V74.5V73.5H527.5V72.5H528.5V71.5 M543.5 68.5L549.5 68.5L549.5 70.5V71.5H548.5V72.5V73.5H547.5V74.5V75.5H546.5V76.5V77.5H545.5V78.5V79.5 M553.5 68.5L559.5 68.5L559.5 70.5V71.5H558.5V72.5V73.5H557.5V74.5V75.5H556.5V76.5V77.5H555.5V78.5V79.5 M581.5 68.5L581.5 79.5 M581.5 72.5L576.5 72.5H575.5V73.5H574.5V74.5L574.5 79.5L581.5 79.5 M584.5 68.5L590.5 68.5H591.5V69.5L591.5 71.5H590.5V72.5L585.5 72.5 M590.5 72.5H591.5V73.5L591.5 78.5H590.5V79.5L584.5 79.5 M585.5 68.5L585.5 79.5 M409.5 93.5L409.5 92.5H408.5V91.5L404.5 91.5H403.5V92.5H402.5V93.5L402.5 100.5H403.5V101.5H404.5V102.5L408.5 102.5H409.5V101.5L409.5 100.5 M412.5 91.5L412.5 102.5 M412.5 95.5L417.5 95.5H418.5V96.5L418.5 102.5 M422.5 93.5H423.5V92.5H424.5V91.5L427.5 91.5H428.5V92.5L428.5 96.5H427.5V97.5H426.5V98.5H425.5H424.5V99.5H423.5V100.5H422.5V101.5L422.5 102.5L428.5 102.5 M443.5 92.5L444.5 92.5L444.5 102.5 M444.5 92.5H445.5V93.5V94.5H446.5V95.5V96.5H447.5V97.5V98.5H448.5V97.5V96.5H449.5V95.5V94.5H450.5V93.5V92.5L450.5 102.5 M453.5 91.5L453.5 102.5 M459.5 94.5H458.5V95.5H457.5V96.5H456.5H455.5V97.5H454.5V98.5 M455.5 98.5H456.5V99.5H457.5V100.5H458.5V101.5H459.5V102.5 M463.5 95.5L463.5 102.5 M464.5 96.5H465.5V95.5L468.5 95.5H469.5V96.5 M475.5 94.5H476.5V93.5V92.5H477.5V91.5L477.5 102.5 M476.5 102.5L479.5 102.5 M505.5 91.5L505.5 97.5L511.5 97.5 M510.5 93.5L510.5 102.5 M516.5 91.5L520.5 91.5H521.5V92.5L521.5 95.5H520.5V96.5L518.5 96.5 M520.5 96.5H521.5V97.5L521.5 101.5H520.5V102.5L516.5 102.5 M532.5 91.5L526.5 91.5L526.5 96.5L530.5 96.5H531.5V97.5H532.5V98.5L532.5 100.5H531.5V101.5H530.5V102.5L527.5 102.5H526.5V101.5 M546.5 93.5H547.5V92.5H548.5V91.5L553.5 91.5L553.5 101.5H552.5V102.5L546.5 102.5L546.5 93.5 M547.5 100.5H548.5V99.5H549.5V98.5H550.5V97.5V96.5H551.5V95.5H552.5V94.5 M556.5 93.5H557.5V92.5H558.5V91.5L563.5 91.5L563.5 101.5H562.5V102.5L556.5 102.5L556.5 93.5 M557.5 100.5H558.5V99.5H559.5V98.5H560.5V97.5V96.5H561.5V95.5H562.5V94.5 M567.5 93.5H568.5V92.5H569.5V91.5L574.5 91.5L574.5 101.5H573.5V102.5L567.5 102.5L567.5 93.5 M568.5 100.5H569.5V99.5H570.5V98.5H571.5V97.5V96.5H572.5V95.5H573.5V94.5 M587.5 92.5L588.5 92.5L588.5 102.5 M588.5 92.5H589.5V93.5V94.5H590.5V95.5V96.5H591.5V97.5V98.5H592.5V97.5V96.5H593.5V95.5V94.5H594.5V93.5V92.5L594.5 102.5 M598.5 91.5L598.5 102.5 M605.5 91.5L605.5 102.5 M598.5 96.5L605.5 96.5 M608.5 95.5L614.5 95.5H613.5V96.5H612.5V97.5H611.5V98.5V99.5H610.5V100.5H609.5V101.5H608.5V102.5L614.5 102.5 M502.5 114.5L508.5 114.5 M513.5 109.5L517.5 109.5H518.5V110.5L518.5 113.5H517.5V114.5L515.5 114.5 M517.5 114.5H518.5V115.5L518.5 119.5H517.5V120.5L513.5 120.5 M523.5 111.5H524.5V110.5H525.5V109.5L530.5 109.5L530.5 119.5H529.5V120.5L523.5 120.5L523.5 111.5 M524.5 118.5H525.5V117.5H526.5V116.5H527.5V115.5V114.5H528.5V113.5H529.5V112.5 M543.5 109.5L549.5 109.5L549.5 111.5V112.5H548.5V113.5V114.5H547.5V115.5V116.5H546.5V117.5V118.5H545.5V119.5V120.5 M554.5 111.5H555.5V110.5H556.5V109.5L561.5 109.5L561.5 119.5H560.5V120.5L554.5 120.5L554.5 111.5 M555.5 118.5H556.5V117.5H557.5V116.5H558.5V115.5V114.5H559.5V113.5H560.5V112.5 M581.5 109.5L581.5 120.5 M581.5 113.5L576.5 113.5H575.5V114.5H574.5V115.5L574.5 120.5L581.5 120.5 M584.5 109.5L590.5 109.5H591.5V110.5L591.5 112.5H590.5V113.5L585.5 113.5 M590.5 113.5H591.5V114.5L591.5 119.5H590.5V120.5L584.5 120.5 M585.5 109.5L585.5 120.5 M8.5 64.5L8.5 75.5 M8.5 68.5L3.5 68.5H2.5V69.5H1.5V70.5L1.5 75.5L8.5 75.5 M11.5 64.5L17.5 64.5H18.5V65.5L18.5 67.5H17.5V68.5L12.5 68.5 M17.5 68.5H18.5V69.5L18.5 74.5H17.5V75.5L11.5 75.5 M12.5 64.5L12.5 75.5 M22.5 85.5L28.5 85.5 M33.5 82.5H34.5V81.5V80.5H35.5V79.5L35.5 91.5 M34.5 91.5L37.5 91.5 M22.5 126.5L28.5 126.5 M32.5 122.5H33.5V121.5H34.5V120.5L37.5 120.5H38.5V121.5L38.5 126.5H37.5V127.5H36.5V128.5H35.5H34.5V129.5H33.5V130.5H32.5V131.5L32.5 132.5L38.5 132.5 M22.5 167.5L28.5 167.5 M33.5 161.5L37.5 161.5H38.5V162.5L38.5 165.5V166.5H37.5V167.5L35.5 167.5 M37.5 167.5H38.5V168.5L38.5 172.5H37.5V173.5L33.5 173.5 M22.5 208.5L28.5 208.5 M32.5 202.5L32.5 209.5L38.5 209.5 M37.5 204.5L37.5 214.5 M22.5 249.5L28.5 249.5 M38.5 243.5L32.5 243.5L32.5 249.5L36.5 249.5H37.5V250.5H38.5V251.5L38.5 253.5H37.5V254.5H36.5V255.5L33.5 255.5H32.5V254.5 M22.5 291.5L28.5 291.5 M37.5 285.5H36.5V286.5H35.5V287.5H34.5V288.5H33.5V289.5V290.5H32.5V291.5V292.5L32.5 296.5H33.5V297.5L37.5 297.5H38.5V296.5L38.5 291.5H37.5V290.5L33.5 290.5 M22.5 332.5L28.5 332.5 M32.5 326.5L38.5 326.5L38.5 328.5V329.5H37.5V330.5V331.5H36.5V332.5V333.5V334.5H35.5V335.5V336.5H34.5V337.5V338.5 M22.5 373.5L28.5 373.5 M33.5 368.5H34.5V367.5L37.5 367.5H38.5V368.5L38.5 371.5V372.5H37.5V373.5L34.5 373.5V372.5H33.5V371.5L33.5 368.5 M33.5 374.5H32.5V375.5L32.5 378.5H33.5V379.5L37.5 379.5H38.5V378.5L38.5 374.5H37.5V373.5 M22.5 414.5L28.5 414.5 M38.5 414.5L33.5 414.5V413.5H32.5V412.5L32.5 410.5H33.5V409.5H34.5V408.5L37.5 408.5H38.5V409.5L38.5 417.5H37.5V418.5H36.5V419.5H35.5V420.5 M1.5 445.5H2.5V444.5V443.5H3.5V442.5L3.5 439.5H4.5V438.5V437.5L4.5 434.5H5.5V433.5L5.5 437.5H6.5V438.5V439.5L6.5 442.5H7.5V443.5V444.5H8.5V445.5 M3.5 442.5L6.5 442.5 M11.5 433.5L11.5 445.5 M11.5 437.5L16.5 437.5H17.5V438.5V439.5L17.5 444.5H16.5V445.5L11.5 445.5 M28.5 439.5L28.5 437.5L23.5 437.5V438.5H22.5V439.5L22.5 440.5H23.5V441.5L27.5 441.5H28.5V442.5L28.5 444.5H27.5V445.5L22.5 445.5L22.5 444.5 M51.5 463.5L51.5 462.5H50.5V461.5L46.5 461.5H45.5V462.5H44.5V463.5L44.5 471.5H45.5V472.5H46.5V473.5L50.5 473.5H51.5V472.5L51.5 471.5 M54.5 469.5L60.5 469.5L60.5 465.5L54.5 465.5L54.5 473.5L60.5 473.5L60.5 472.5 M65.5 465.5L65.5 473.5 M65.5 465.5L70.5 465.5H71.5V466.5V467.5L71.5 473.5 M78.5 461.5L78.5 472.5H79.5V473.5L81.5 473.5L81.5 472.5 M75.5 467.5L81.5 467.5 M85.5 469.5L91.5 469.5L91.5 465.5L85.5 465.5L85.5 473.5L91.5 473.5L91.5 472.5 M96.5 465.5L96.5 473.5 M97.5 467.5H98.5V466.5V465.5L101.5 465.5H102.5V466.5V467.5 M116.5 461.5L116.5 468.5L122.5 468.5 M121.5 463.5L121.5 473.5 M127.5 461.5L131.5 461.5H132.5V462.5L132.5 465.5V466.5H131.5V467.5L129.5 467.5 M131.5 467.5H132.5V468.5L132.5 472.5H131.5V473.5L127.5 473.5 M143.5 461.5L137.5 461.5L137.5 467.5L141.5 467.5H142.5V468.5H143.5V469.5L143.5 471.5H142.5V472.5H141.5V473.5L138.5 473.5H137.5V472.5 M157.5 463.5H158.5V462.5H159.5V461.5L164.5 461.5L164.5 472.5H163.5V473.5L157.5 473.5L157.5 463.5 M158.5 471.5H159.5V470.5V469.5H160.5V468.5H161.5V467.5H162.5V466.5V465.5H163.5V464.5 M168.5 463.5H169.5V462.5H170.5V461.5L175.5 461.5L175.5 472.5H174.5V473.5L168.5 473.5L168.5 463.5 M169.5 471.5H170.5V470.5V469.5H171.5V468.5H172.5V467.5H173.5V466.5V465.5H174.5V464.5 M178.5 463.5H179.5V462.5H180.5V461.5L185.5 461.5L185.5 472.5H184.5V473.5L178.5 473.5L178.5 463.5 M179.5 471.5H180.5V470.5V469.5H181.5V468.5H182.5V467.5H183.5V466.5V465.5H184.5V464.5 M198.5 462.5L199.5 462.5L199.5 473.5 M199.5 462.5V463.5H200.5V464.5V465.5H201.5V466.5V467.5H202.5V468.5V469.5V468.5H203.5V467.5V466.5H204.5V465.5V464.5H205.5V463.5V462.5L205.5 473.5 M209.5 461.5L209.5 473.5 M216.5 461.5L216.5 473.5 M209.5 467.5L216.5 467.5 M219.5 465.5L225.5 465.5H224.5V466.5V467.5H223.5V468.5H222.5V469.5H221.5V470.5V471.5H220.5V472.5H219.5V473.5L225.5 473.5 M485.5 462.5H484.5V461.5L479.5 461.5H478.5V462.5L478.5 465.5H479.5V466.5V467.5L484.5 467.5H485.5V468.5L485.5 472.5H484.5V473.5L479.5 473.5H478.5V472.5 M488.5 465.5L488.5 477.5 M488.5 465.5L493.5 465.5H494.5V466.5V467.5L494.5 472.5H493.5V473.5L488.5 473.5 M498.5 467.5H499.5V466.5V465.5L503.5 465.5H504.5V466.5V467.5L504.5 473.5L498.5 473.5L498.5 470.5H499.5V469.5L504.5 469.5 M508.5 465.5L508.5 473.5 M508.5 465.5L513.5 465.5H514.5V466.5V467.5L514.5 473.5 M530.5 464.5H531.5V463.5V462.5H532.5V461.5L532.5 473.5 M531.5 473.5L534.5 473.5 M550.5 463.5H551.5V462.5H552.5V461.5L557.5 461.5L557.5 472.5H556.5V473.5L550.5 473.5L550.5 463.5 M551.5 471.5H552.5V470.5V469.5H553.5V468.5H554.5V467.5H555.5V466.5V465.5H556.5V464.5 M560.5 463.5H561.5V462.5H562.5V461.5L567.5 461.5L567.5 472.5H566.5V473.5L560.5 473.5L560.5 463.5 M561.5 471.5H562.5V470.5V469.5H563.5V468.5H564.5V467.5H565.5V466.5V465.5H566.5V464.5 M570.5 463.5H571.5V462.5H572.5V461.5L577.5 461.5L577.5 472.5H576.5V473.5L570.5 473.5L570.5 463.5 M571.5 471.5H572.5V470.5V469.5H573.5V468.5H574.5V467.5H575.5V466.5V465.5H576.5V464.5 M591.5 462.5L592.5 462.5L592.5 473.5 M592.5 462.5V463.5H593.5V464.5V465.5H594.5V466.5V467.5H595.5V468.5V469.5V468.5H596.5V467.5V466.5H597.5V465.5V464.5H598.5V463.5V462.5L598.5 473.5 M601.5 461.5L601.5 473.5 M608.5 461.5L608.5 473.5 M601.5 467.5L608.5 467.5 M611.5 465.5L617.5 465.5H616.5V466.5V467.5H615.5V468.5H614.5V469.5H613.5V470.5V471.5H612.5V472.5H611.5V473.5L617.5 473.5 M47.5 500.5H48.5V499.5V498.5H49.5V497.5L49.5 509.5 M48.5 509.5L51.5 509.5 M66.5 498.5L67.5 498.5L67.5 509.5 M67.5 498.5V499.5H68.5V500.5V501.5H69.5V502.5V503.5H70.5V504.5V505.5V504.5H71.5V503.5V502.5H72.5V501.5V500.5H73.5V499.5V498.5L73.5 509.5 M76.5 497.5L76.5 509.5 M82.5 500.5H81.5V501.5H80.5V502.5H79.5V503.5H78.5V504.5H77.5V505.5 M78.5 505.5H79.5V506.5H80.5V507.5H81.5V508.5H82.5V509.5 M86.5 501.5L86.5 509.5 M87.5 503.5H88.5V502.5V501.5L91.5 501.5H92.5V502.5V503.5 M112.5 497.5H111.5V498.5H110.5V499.5H109.5V500.5H108.5V501.5L108.5 505.5H109.5V506.5H110.5V507.5H111.5V508.5H112.5V509.5 M117.5 498.5L118.5 498.5L118.5 509.5 M118.5 498.5V499.5H119.5V500.5V501.5H120.5V502.5V503.5H121.5V504.5V505.5V504.5H122.5V503.5V502.5H123.5V501.5V500.5H124.5V499.5V498.5L124.5 509.5 M127.5 497.5L127.5 509.5 M134.5 497.5L134.5 509.5 M127.5 503.5L134.5 503.5 M137.5 501.5L143.5 501.5H142.5V502.5V503.5H141.5V504.5H140.5V505.5H139.5V506.5V507.5H138.5V508.5H137.5V509.5L143.5 509.5 M150.5 497.5H151.5V498.5H152.5V499.5H153.5V500.5H154.5V501.5L154.5 505.5H153.5V506.5H152.5V507.5H151.5V508.5H150.5V509.5 M206.5 497.5L206.5 509.5 M206.5 501.5L201.5 501.5H200.5V502.5V503.5H199.5V504.5L199.5 509.5L206.5 509.5 M209.5 497.5L215.5 497.5H216.5V498.5L216.5 500.5H215.5V501.5L210.5 501.5 M215.5 501.5H216.5V502.5V503.5L216.5 508.5H215.5V509.5L209.5 509.5 M210.5 497.5L210.5 509.5 M47.5 519.5H48.5V518.5V517.5H49.5V516.5L49.5 528.5 M48.5 528.5L51.5 528.5 M57.5 518.5H58.5V519.5H59.5V520.5V521.5H60.5V522.5H61.5V523.5H60.5V524.5H59.5V525.5H58.5V526.5H57.5V527.5 M86.5 516.5L86.5 523.5L92.5 523.5 M91.5 518.5L91.5 528.5 M98.5 516.5L102.5 516.5H103.5V517.5L103.5 520.5V521.5H102.5V522.5L100.5 522.5 M102.5 522.5H103.5V523.5L103.5 527.5H102.5V528.5L98.5 528.5 M113.5 516.5L107.5 516.5L107.5 522.5L111.5 522.5H112.5V523.5H113.5V524.5L113.5 526.5H112.5V527.5H111.5V528.5L108.5 528.5H107.5V527.5 M128.5 518.5H129.5V517.5H130.5V516.5L135.5 516.5L135.5 527.5H134.5V528.5L128.5 528.5L128.5 518.5 M129.5 526.5H130.5V525.5V524.5H131.5V523.5H132.5V522.5H133.5V521.5V520.5H134.5V519.5 M138.5 518.5H139.5V517.5H140.5V516.5L145.5 516.5L145.5 527.5H144.5V528.5L138.5 528.5L138.5 518.5 M139.5 526.5H140.5V525.5V524.5H141.5V523.5H142.5V522.5H143.5V521.5V520.5H144.5V519.5 M189.5 522.5L195.5 522.5 M199.5 518.5H200.5V517.5H201.5V516.5L206.5 516.5L206.5 527.5H205.5V528.5L199.5 528.5L199.5 518.5 M200.5 526.5H201.5V525.5V524.5H202.5V523.5H203.5V522.5H204.5V521.5V520.5H205.5V519.5 M220.5 516.5L226.5 516.5L226.5 518.5V519.5H225.5V520.5V521.5H224.5V522.5V523.5V524.5H223.5V525.5V526.5H222.5V527.5V528.5 M230.5 516.5L236.5 516.5L236.5 518.5V519.5H235.5V520.5V521.5H234.5V522.5V523.5V524.5H233.5V525.5V526.5H232.5V527.5V528.5 M329.5 499.5H330.5V498.5H331.5V497.5L334.5 497.5H335.5V498.5L335.5 503.5H334.5V504.5H333.5V505.5H332.5H331.5V506.5H330.5V507.5H329.5V508.5L329.5 509.5L335.5 509.5 M349.5 498.5L350.5 498.5L350.5 509.5 M350.5 498.5V499.5H351.5V500.5V501.5H352.5V502.5V503.5H353.5V504.5V505.5V504.5H354.5V503.5V502.5H355.5V501.5V500.5H356.5V499.5V498.5L356.5 509.5 M360.5 497.5L360.5 509.5 M366.5 500.5H365.5V501.5H364.5V502.5H363.5V503.5H362.5V504.5H361.5V505.5 M362.5 505.5H363.5V506.5H364.5V507.5H365.5V508.5H366.5V509.5 M370.5 501.5L370.5 509.5 M371.5 503.5H372.5V502.5V501.5L375.5 501.5H376.5V502.5V503.5 M395.5 497.5H394.5V498.5H393.5V499.5H392.5V500.5H391.5V501.5L391.5 505.5H392.5V506.5H393.5V507.5H394.5V508.5H395.5V509.5 M401.5 498.5L402.5 498.5L402.5 509.5 M402.5 498.5V499.5H403.5V500.5V501.5H404.5V502.5V503.5H405.5V504.5V505.5V504.5H406.5V503.5V502.5H407.5V501.5V500.5H408.5V499.5V498.5L408.5 509.5 M411.5 497.5L411.5 509.5 M418.5 497.5L418.5 509.5 M411.5 503.5L418.5 503.5 M421.5 501.5L427.5 501.5H426.5V502.5V503.5H425.5V504.5H424.5V505.5H423.5V506.5V507.5H422.5V508.5H421.5V509.5L427.5 509.5 M433.5 497.5H434.5V498.5H435.5V499.5H436.5V500.5H437.5V501.5L437.5 505.5H436.5V506.5H435.5V507.5H434.5V508.5H433.5V509.5 M489.5 497.5L489.5 509.5 M489.5 501.5L484.5 501.5H483.5V502.5V503.5H482.5V504.5L482.5 509.5L489.5 509.5 M493.5 497.5L499.5 497.5H500.5V498.5L500.5 500.5H499.5V501.5L494.5 501.5 M499.5 501.5H500.5V502.5V503.5L500.5 508.5H499.5V509.5L493.5 509.5 M494.5 497.5L494.5 509.5 M330.5 519.5H331.5V518.5V517.5H332.5V516.5L332.5 528.5 M331.5 528.5L334.5 528.5 M340.5 518.5H341.5V519.5H342.5V520.5V521.5H343.5V522.5H344.5V523.5H343.5V524.5H342.5V525.5H341.5V526.5H340.5V527.5 M370.5 516.5L370.5 523.5L376.5 523.5 M375.5 518.5L375.5 528.5 M381.5 516.5L385.5 516.5H386.5V517.5L386.5 520.5V521.5H385.5V522.5L383.5 522.5 M385.5 522.5H386.5V523.5L386.5 527.5H385.5V528.5L381.5 528.5 M396.5 516.5L390.5 516.5L390.5 522.5L394.5 522.5H395.5V523.5H396.5V524.5L396.5 526.5H395.5V527.5H394.5V528.5L391.5 528.5H390.5V527.5 M411.5 518.5H412.5V517.5H413.5V516.5L418.5 516.5L418.5 527.5H417.5V528.5L411.5 528.5L411.5 518.5 M412.5 526.5H413.5V525.5V524.5H414.5V523.5H415.5V522.5H416.5V521.5V520.5H417.5V519.5 M421.5 518.5H422.5V517.5H423.5V516.5L428.5 516.5L428.5 527.5H427.5V528.5L421.5 528.5L421.5 518.5 M422.5 526.5H423.5V525.5V524.5H424.5V523.5H425.5V522.5H426.5V521.5V520.5H427.5V519.5 M462.5 522.5L468.5 522.5 M473.5 516.5L477.5 516.5H478.5V517.5L478.5 520.5V521.5H477.5V522.5L475.5 522.5 M477.5 522.5H478.5V523.5L478.5 527.5H477.5V528.5L473.5 528.5 M482.5 518.5H483.5V517.5H484.5V516.5L489.5 516.5L489.5 527.5H488.5V528.5L482.5 528.5L482.5 518.5 M483.5 526.5H484.5V525.5V524.5H485.5V523.5H486.5V522.5H487.5V521.5V520.5H488.5V519.5 M503.5 516.5L509.5 516.5L509.5 518.5V519.5H508.5V520.5V521.5H507.5V522.5V523.5V524.5H506.5V525.5V526.5H505.5V527.5V528.5 M513.5 518.5H514.5V517.5H515.5V516.5L520.5 516.5L520.5 527.5H519.5V528.5L513.5 528.5L513.5 518.5 M514.5 526.5H515.5V525.5V524.5H516.5V523.5H517.5V522.5H518.5V521.5V520.5H519.5V519.5 M616.5 321.5H617.5V320.5V319.5H618.5V318.5L618.5 329.5 M617.5 329.5L620.5 329.5 M614.5 51.5H615.5V50.5H616.5V49.5L619.5 49.5H620.5V50.5L620.5 54.5H619.5V55.5H618.5V56.5H617.5H616.5V57.5H615.5V58.5H614.5V59.5L614.5 60.5L620.5 60.5" stroke-linecap="square" stroke-linejoin="round"/>
</g>
<path d="M65 8h2v2h-2z M65 15h2v2h-2z M139 5h2v2h-2z M170 5h2v2h-2z M65 27h2v2h-2z M65 35h2v2h-2z M149 24h2v2h-2z M355 15h2v2h-2z M355 35h2v2h-2z M505 15h2v2h-2z M505 35h2v2h-2z M603 15h2v2h-2z M603 35h2v2h-2z M88 50h2v2h-2z M222 50h2v2h-2z M284 68h2v2h-2z M434 53h2v2h-2z M434 60h2v2h-2z M538 60h2v2h-2z M535 78h2v2h-2z M434 94h2v2h-2z M434 101h2v2h-2z M538 101h2v2h-2z M535 119h2v2h-2z M149 472h2v2h-2z M541 472h2v2h-2z M57 500h2v2h-2z M57 508h2v2h-2z M119 527h2v2h-2z M211 527h2v2h-2z M340 500h2v2h-2z M340 508h2v2h-2z M403 527h2v2h-2z M495 527h2v2h-2z" fill="#000"/>
<path d="M46 5 L53 10 L53 12 L48 16 L46 16 Z" fill="#000"/>
<path d="M46.5 24.5H47.5V25.5H48.5V26.5H49.5V27.5H50.5H51.5V28.5H52.5V29.5L52.5 30.5H51.5V31.5H50.5H49.5V32.5H48.5V33.5H47.5H46.5V34.5L46.5 24.5" fill="none" stroke="#000" stroke-linecap="square" stroke-linejoin="round"/>
<path d="M37 38 L44.5 43.5 L37 49 Z" fill="#000"/>
</svg></body></html>
